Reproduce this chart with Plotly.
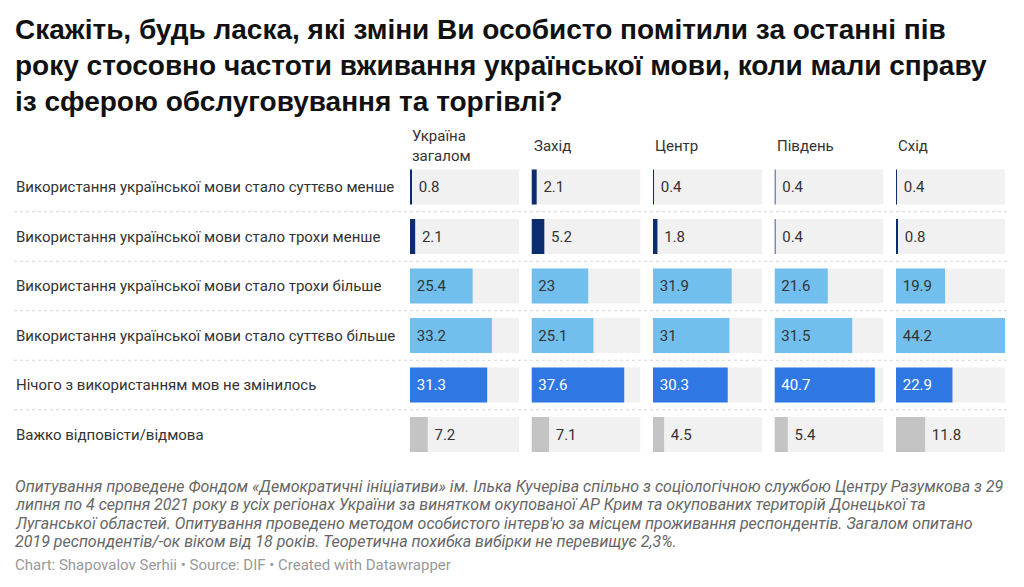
import plotly.graph_objects as go

# page body has an 8px default margin; the figure is sized to the remaining window
OFF = 8
W, H = 1024 - OFF, 587 - OFF

title_lines = [
    "Скажіть, будь ласка, які зміни Ви особисто помітили за останні пів",
    "року стосовно частоти вживання української мови, коли мали справу",
    "із сферою обслуговування та торгівлі?",
]
regions = ["Україна<br>загалом", "Захід", "Центр", "Південь", "Схід"]
answers = [
    "Використання української мови стало суттєво менше",
    "Використання української мови стало трохи менше",
    "Використання української мови стало трохи більше",
    "Використання української мови стало суттєво більше",
    "Нічого з використанням мов не змінилось",
    "Важко відповісти/відмова",
]
ukraine = [0.8, 2.1, 25.4, 33.2, 31.3, 7.2]
west = [2.1, 5.2, 23, 25.1, 37.6, 7.1]
center = [0.4, 1.8, 31.9, 31, 30.3, 4.5]
south = [0.4, 0.4, 21.6, 31.5, 40.7, 5.4]
east = [0.4, 0.8, 19.9, 44.2, 22.9, 11.8]
series = [ukraine, west, center, south, east]

footnote_lines = [
    "Опитування проведене Фондом «Демократичні ініціативи» ім. Ілька Кучеріва спільно з соціологічною службою Центру Разумкова з 29",
    "липня по 4 серпня 2021 року в усіх регіонах України за винятком окупованої АР Крим та окупованих територій Донецької та",
    "Луганської областей. Опитування проведено методом особистого інтерв'ю за місцем проживання респондентів. Загалом опитано",
    "2019 респондентів/-ок віком від 18 років. Теоретична похибка вибірки не перевищує 2,3%.",
]
credit = "Chart: Shapovalov Serhii • Source: DIF • Created with Datawrapper"

# styles
row_colors = ["#0b2d6f", "#0b2d6f", "#72bfee", "#72bfee", "#2f78e4", "#c4c4c4"]
row_text_colors = ["#333333", "#333333", "#333333", "#333333", "#ffffff", "#333333"]
track_color = "#f1f1f1"
BODY = "Roboto"
TITLE_FONT = "Liberation Sans"

xmax = max(max(s) for s in series)

col_x0 = [410, 531.5, 653, 774.5, 896]
col_w = 109


def px(x):
    return (x - OFF) / W


def py(y):
    return 1 - (y - OFF) / H


y_top, y_bot = 162.25, 459.25

fig = go.Figure()
annotations = []

for i, (name, vals) in enumerate(zip(regions, series)):
    xa = "x" if i == 0 else f"x{i+1}"
    # background track
    fig.add_trace(go.Bar(
        x=[xmax] * len(answers), y=answers, orientation="h",
        xaxis=xa, yaxis="y", marker=dict(color=track_color, line=dict(width=0)),
        hoverinfo="skip", showlegend=False,
    ))
    labels = [f"{v:g}" for v in vals]
    inside = [v / xmax * col_w > 40 for v in vals]
    fig.add_trace(go.Bar(
        x=vals, y=answers, orientation="h",
        xaxis=xa, yaxis="y",
        marker=dict(color=row_colors, line=dict(width=0)),
        text=["\u00a0" + t for t in labels],
        textposition=["inside" if f else "outside" for f in inside],
        insidetextanchor="start",
        textfont=dict(family=BODY, size=15, color=row_text_colors),
        constraintext="none", cliponaxis=False,
        hoverinfo="skip", showlegend=False,
    ))
    fig.update_layout({
        ("xaxis" if i == 0 else f"xaxis{i+1}"): dict(
            domain=[px(col_x0[i]), px(col_x0[i] + col_w)],
            range=[0, xmax], visible=False, fixedrange=True,
            anchor="y",
        )
    })
    annotations.append(dict(
        text=name, x=px(col_x0[i]), y=py(146), xref="paper", yref="paper",
        xanchor="left", yanchor="middle", align="left", showarrow=False,
        font=dict(family=BODY, size=15, color="#333333"),
    ))

for a in answers:
    annotations.append(dict(
        text=a, x=px(14), y=a, xref="paper", yref="y",
        xanchor="left", yanchor="middle", showarrow=False,
        font=dict(family=BODY, size=15, color="#333333"),
    ))

title_y = [29, 65.5, 102]
for t, yy in zip(title_lines, title_y):
    annotations.append(dict(
        text=f"<b>{t}</b>", x=px(13), y=py(yy), xref="paper", yref="paper",
        xanchor="left", yanchor="middle", showarrow=False,
        font=dict(family=TITLE_FONT, size=28, color="#111111"),
    ))

foot_y = [486, 504.5, 523, 541.5]
for t, yy in zip(footnote_lines, foot_y):
    annotations.append(dict(
        text=f"<i>{t}</i>", x=px(13), y=py(yy), xref="paper", yref="paper",
        xanchor="left", yanchor="middle", showarrow=False,
        font=dict(family=BODY, size=16, color="#666666"),
    ))
annotations.append(dict(
    text=credit, x=px(13), y=py(565), xref="paper", yref="paper",
    xanchor="left", yanchor="middle", showarrow=False,
    font=dict(family=BODY, size=15, color="#999999"),
))

shapes = []
for k in range(len(answers) - 1):
    shapes.append(dict(
        type="line", xref="paper", yref="y",
        x0=px(14), x1=px(1010), y0=k + 0.5, y1=k + 0.5,
        line=dict(color="#d6d6d6", width=1, dash="dot"), layer="below",
    ))

fig.update_layout(
    width=W, height=H,
    margin=dict(l=0, r=0, t=0, b=0),
    paper_bgcolor="white", plot_bgcolor="white",
    barmode="overlay", bargap=0.293,
    yaxis=dict(
        domain=[py(y_bot), py(y_top)],
        categoryorder="array", categoryarray=answers,
        autorange="reversed", visible=False, fixedrange=True,
    ),
    annotations=annotations, shapes=shapes,
)

fig.write_html("out.html", config={"displayModeBar": False})
